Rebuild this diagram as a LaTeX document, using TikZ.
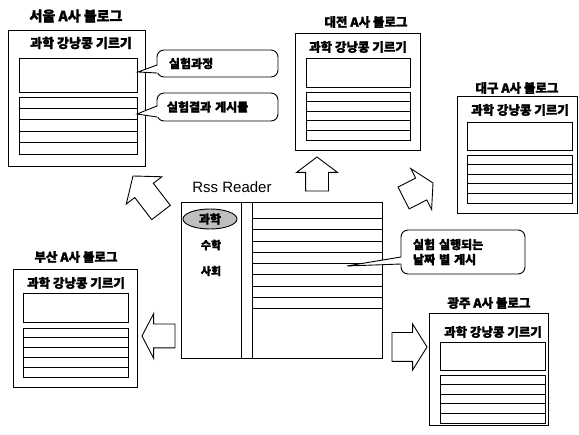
\documentclass[tikz,border=0pt]{standalone}
\usepackage{fontspec}
\setmainfont{Liberation Sans}
\newfontfamily\kr{Noto Sans CJK KR}[BoldFeatures={FakeBold=1.6}]
\usetikzlibrary{shapes.arrows,shapes.geometric,fit,calc}
\tikzset{
  ln/.style={draw=black, line width=0.9pt},
  frame/.style={ln, fill=white, inner sep=0pt, outer sep=0pt},
  blogtitle/.style={font=\kr\bfseries\fontsize{12.5}{14}\selectfont, inner sep=0pt},
  blogheader/.style={font=\kr\bfseries\fontsize{12.5}{14}\selectfont, inner sep=0pt},
  bubble/.style={ln, fill=white, rounded corners=7pt, align=left, outer sep=0pt,
    font=\kr\bfseries\fontsize{12}{15}\selectfont, inner ysep=0pt},
  barrow/.style={single arrow, ln, fill=white, inner xsep=0pt, minimum width=0pt, outer sep=0pt},
  paneltext/.style={font=\kr\bfseries\fontsize{11}{13}\selectfont, inner sep=0pt},
}
\newcommand\listrows[1]{\foreach \k in {1,2,3,4}{\draw[ln] ($(#1.north west)!\k/5!(#1.south west)$) -- ($(#1.north east)!\k/5!(#1.south east)$);}}
\newcommand\calltail[3]{%
  \fill[white] ($(#1)+(1.5,0)$) -- (#3) -- ($(#2)+(1.5,0)$) -- cycle;
  \draw[ln] (#1) -- (#3) -- (#2);}
\begin{document}
\begin{tikzpicture}[x=1pt,y=-1pt]
\useasboundingbox (0,0) rectangle (579,435);

% ---------- Seoul ----------
\node[blogtitle,font=\kr\bfseries\fontsize{14}{16}\selectfont] (seoul-t) at (76,16) {서울 A사 블로그};
\node[frame, fit={(8,30) (145,166)}] (seoul) {};
\node[blogheader,font=\kr\bfseries\fontsize{13}{15}\selectfont] (seoul-h) at (81,43) {과학 강낭콩 기르기};
\node[frame, fit={(19,58) (137,92)}] (seoul-u) {};
\node[frame, fit={(19,97) (137,154)}] (seoul-l) {};
\listrows{seoul-l}

% callouts of Seoul
\node[bubble, minimum width=121, minimum height=27, text width=97, inner xsep=12] (c1) at (217.5,63.5) {실험과정};
\coordinate (c1a) at (c1.west |- 0,65);
\coordinate (c1b) at (c1.west |- 0,73);
\coordinate (c1t) at (138,72);
\calltail{c1a}{c1b}{c1t}
\node[bubble, minimum width=121, minimum height=28, text width=101, inner xsep=10] (c2) at (217.5,107) {실험결과 게시물};
\coordinate (c2a) at (c2.west |- 0,106);
\coordinate (c2b) at (c2.west |- 0,117);
\coordinate (c2t) at (137,114);
\calltail{c2a}{c2b}{c2t}

% ---------- Daejeon ----------
\node[blogtitle] (daejeon-t) at (366,22) {대전 A사 블로그};
\node[frame, fit={(295,33) (420,150)}] (daejeon) {};
\node[blogheader] (daejeon-h) at (358,47) {과학 강낭콩 기르기};
\node[frame, fit={(306,58) (410,87)}] (daejeon-u) {};
\node[frame, fit={(306,92) (410,140)}] (daejeon-l) {};
\listrows{daejeon-l}

% ---------- Daegu ----------
\node[blogtitle] (daegu-t) at (517,88) {대구 A사 블로그};
\node[frame, fit={(457,96) (577,213)}] (daegu) {};
\node[blogheader] (daegu-h) at (520,110) {과학 강낭콩 기르기};
\node[frame, fit={(467,122) (572,150)}] (daegu-u) {};
\node[frame, fit={(467,155) (572,203)}] (daegu-l) {};
\listrows{daegu-l}

% ---------- Busan ----------
\node[blogtitle] (busan-t) at (76,257) {부산 A사 블로그};
\node[frame, fit={(13,269) (137,387)}] (busan) {};
\node[blogheader] (busan-h) at (76,283) {과학 강낭콩 기르기};
\node[frame, fit={(23,293) (128,322)}] (busan-u) {};
\node[frame, fit={(23,328) (128,377)}] (busan-l) {};
\listrows{busan-l}

% ---------- Gwangju ----------
\node[blogtitle] (gwangju-t) at (489,303) {광주 A사 블로그};
\node[frame, fit={(429,313) (548,425)}] (gwangju) {};
\node[blogheader] (gwangju-h) at (493,332) {과학 강낭콩 기르기};
\node[frame, fit={(440,342) (545,370)}] (gwangju-u) {};
\node[frame, fit={(440,375) (545,423)}] (gwangju-l) {};
\listrows{gwangju-l}

% ---------- RSS reader ----------
\node[inner sep=0pt, font=\fontsize{15}{17}\selectfont] (rss-t) at (232,187) {Rss Reader};
\node[frame, fit={(181,202) (382,358)}] (rss) {};
\draw[ln] (241,202) -- (241,358);
\node[frame, fit={(252,202) (382,297)}] (rss-l) {};
\node[frame, fit={(252,308) (382,358)}] (rss-b) {};
\draw[ln] (rss-l.south west) -- (rss-b.north west);
\foreach \yy in {218,229,241,252,263,274,286}{\draw[ln] (rss-l.west |- 0,\yy) -- (rss-l.east |- 0,\yy);}
\node[ellipse, ln, fill=gray!50, minimum width=54, minimum height=20, inner sep=0pt,
      font=\kr\bfseries\fontsize{12}{13}\selectfont] (sci) at (210,219) {과학};
\node[paneltext] (math) at (211,245) {수학};
\node[paneltext] (soc) at (211,271) {사회};

% callout of RSS list
\node[bubble, minimum width=124, minimum height=44, text width=100, inner xsep=12] (c3) at (463,252) {실험 실행되는\\날짜 별 게시};
\coordinate (c3a) at (c3.west |- 0,257);
\coordinate (c3b) at (c3.west |- 0,264);
\coordinate (c3t) at (347,266);
\calltail{c3a}{c3b}{c3t}

% ---------- block arrows ----------
\node[barrow, rotate=90, anchor=tip, inner ysep=11pt, single arrow head extend=9pt,
      single arrow tip angle=106, minimum height=34] (a-up) at (317,157) {};
\node[barrow, rotate=180, anchor=tip, inner ysep=11.5pt, single arrow head extend=10.5pt,
      single arrow tip angle=125, minimum height=33] (a-left) at (142,336) {};
\node[barrow, rotate=0, anchor=tip, inner ysep=14pt, single arrow head extend=8.5pt,
      single arrow tip angle=116, minimum height=35] (a-right) at (427,347) {};
\node[barrow, rotate=127.5, anchor=tip, inner ysep=11.25pt, single arrow head extend=10.75pt,
      single arrow tip angle=102, minimum height=46] (a-ul) at (133,176) {};
\node[barrow, rotate=27, anchor=tip, inner ysep=11.8pt, single arrow head extend=10.7pt,
      single arrow tip angle=120, minimum height=33] (a-ur) at (433,183) {};
\end{tikzpicture}
\end{document}
